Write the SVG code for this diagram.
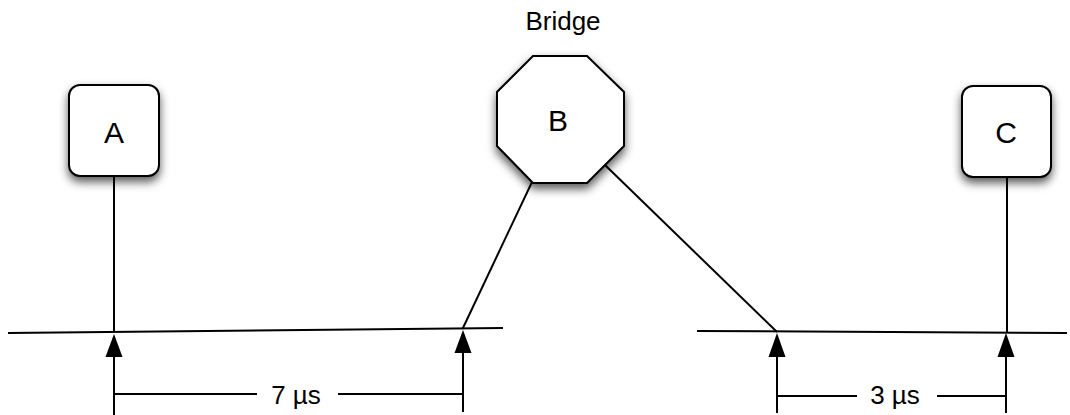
<svg xmlns="http://www.w3.org/2000/svg" width="1070" height="415" viewBox="0 0 1070 415">
  <style>
    .node { fill: #ffffff; stroke: #000000; stroke-width: 2; }
    .line { fill: none; stroke: #000000; stroke-width: 2; }
    .lbl { font-family: "Liberation Sans", Arial, Helvetica, sans-serif; font-size: 26px; fill: #000000; text-anchor: middle; }
    .nlbl { font-family: "Liberation Sans", Arial, Helvetica, sans-serif; font-size: 30px; fill: #000000; text-anchor: middle; }
  </style>
  <defs>
    <filter id="shadow" x="-40%" y="-40%" width="180%" height="190%">
      <feDropShadow dx="0" dy="5" stdDeviation="5" flood-color="#000000" flood-opacity="0.65"/>
    </filter>
  </defs>
  <rect width="1070" height="415" fill="#ffffff"/>

  <g id="connectors">
    <!-- timelines -->
    <line class="line" x1="8" y1="333" x2="503" y2="328"/>
    <line class="line" x1="697" y1="331" x2="1067" y2="333"/>
    <!-- node drops -->
    <line class="line" x1="114" y1="176" x2="114" y2="332"/>
    <line class="line" x1="532" y1="182" x2="462.5" y2="329"/>
    <line class="line" x1="605" y1="165" x2="777" y2="332"/>
    <line class="line" x1="1007" y1="177" x2="1007" y2="333"/>
    <!-- arrows up to timelines -->
    <path d="M114,415 V356" class="line"/>
    <path d="M105.5,357 L114,334 L122.5,357 Z" fill="#000000"/>
    <path d="M463,412 V352" class="line"/>
    <path d="M454.5,353 L463,330 L471.5,353 Z" fill="#000000"/>
    <path d="M777,413 V356" class="line"/>
    <path d="M768.5,357 L777,333 L785.5,357 Z" fill="#000000"/>
    <path d="M1006,413 V356" class="line"/>
    <path d="M997.5,357 L1006,333 L1014.5,357 Z" fill="#000000"/>
    <!-- dimension lines -->
    <line class="line" x1="114" y1="394" x2="257" y2="394"/>
    <line class="line" x1="338" y1="394" x2="463" y2="394"/>
    <line class="line" x1="777" y1="396" x2="857" y2="396"/>
    <line class="line" x1="937" y1="396" x2="1006" y2="396"/>
    <text class="lbl" x="296" y="404">7 µs</text>
    <text class="lbl" x="895" y="404">3 µs</text>
  </g>

  <g id="node-A">
    <rect class="node" x="69" y="85" width="90" height="91" rx="11" filter="url(#shadow)"/>
    <text class="nlbl" x="114" y="143">A</text>
  </g>

  <g id="node-B">
    <text class="lbl" x="563" y="30">Bridge</text>
    <polygon class="node" points="533,56 587,56 624,92 624,146 587,183 533,183 497,146 497,92" filter="url(#shadow)"/>
    <text class="nlbl" x="558" y="131">B</text>
  </g>

  <g id="node-C">
    <rect class="node" x="962" y="86" width="89" height="91" rx="11" filter="url(#shadow)"/>
    <text class="nlbl" x="1006" y="143">C</text>
  </g>
</svg>
